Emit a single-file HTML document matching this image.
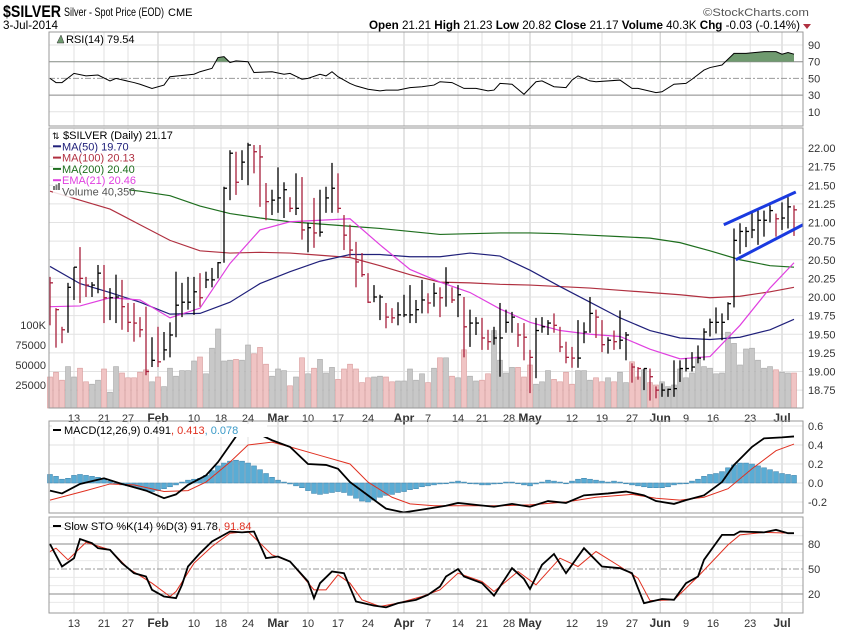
<!DOCTYPE html>
<html><head><meta charset="utf-8"><style>
body{margin:0;background:#fff}
svg{display:block;font-family:"Liberation Sans",sans-serif}
</style></head><body>
<svg id="c" width="850" height="633" viewBox="0 0 850 633">
<text x="3" y="17" font-size="17" font-weight="bold" textLength="58" lengthAdjust="spacingAndGlyphs">$SILVER</text>
<text x="64" y="16" font-size="12" textLength="100" lengthAdjust="spacingAndGlyphs">Silver - Spot Price (EOD)</text>
<text x="168" y="16" font-size="11">CME</text>
<text x="3" y="29" font-size="12" textLength="55" lengthAdjust="spacingAndGlyphs">3-Jul-2014</text>
<text x="703" y="16" font-size="11" fill="#555" textLength="106" lengthAdjust="spacingAndGlyphs">©StockCharts.com</text>
<text x="369" y="29" font-size="12" textLength="431" lengthAdjust="spacingAndGlyphs"><tspan font-weight="bold">Open</tspan> 21.21 <tspan font-weight="bold">High</tspan> 21.23 <tspan font-weight="bold">Low</tspan> 20.82 <tspan font-weight="bold">Close</tspan> 21.17 <tspan font-weight="bold">Volume</tspan> 40.3K <tspan font-weight="bold">Chg</tspan> -0.03 (-0.14%)</text>
<polygon points="803,24 811,24 807,29" fill="#b03040"/>
<g id="g"></g>
</svg>
<script>
const highs=[20.27,19.85,19.60,20.19,20.40,20.67,20.27,20.20,20.43,20.43,20.12,20.30,20.23,19.92,19.92,19.73,19.87,19.46,19.60,19.53,19.66,20.34,20.19,20.27,20.27,20.32,20.34,20.39,20.47,21.48,21.97,21.95,
21.97,22.07,22.04,22.04,21.53,21.44,21.74,21.54,21.34,21.66,21.61,21.00,21.33,21.44,21.48,21.80,21.66,21.10,20.97,20.74,20.59,20.32,20.16,20.03,19.92,19.85,19.93,20.03,20.16,19.96,20.23,
20.05,20.19,20.13,20.40,20.13,20.16,20.00,19.83,19.73,19.72,19.56,19.60,19.92,19.83,19.80,19.65,19.65,19.29,19.72,19.73,19.69,19.78,19.60,19.40,19.33,19.69,19.66,20.00,19.83,19.69,19.46,
19.55,19.82,19.53,19.11,19.06,19.04,19.04,18.80,18.84,18.77,19.15,19.15,19.18,19.26,19.35,19.58,19.71,19.86,19.78,19.93,20.92,20.99,20.94,21.14,21.16,21.16,21.23,21.12,21.27,21.34,21.23];
const lows=[19.62,19.32,19.38,19.52,19.96,19.92,20.00,20.00,20.05,19.65,19.69,19.65,19.56,19.53,19.40,19.46,18.95,19.06,19.06,19.15,19.19,19.46,19.73,19.83,19.76,19.87,20.12,20.13,20.25,20.46,21.30,21.37,
21.57,21.50,21.66,21.21,21.03,21.10,21.13,21.06,21.14,21.10,20.77,20.60,20.66,20.81,21.13,21.13,21.13,20.63,20.54,20.13,20.27,19.92,19.93,19.69,19.58,19.65,19.62,19.73,19.65,19.65,19.78,
19.78,19.87,19.73,19.87,19.92,19.73,19.19,19.33,19.49,19.29,19.29,19.36,18.93,19.52,19.52,19.33,19.15,18.71,18.91,19.52,19.49,19.52,19.26,19.11,19.05,19.05,19.38,19.52,19.45,19.26,19.24,
19.29,19.30,19.15,18.85,18.89,18.75,18.61,18.64,18.66,18.66,18.66,18.86,19.00,19.00,19.11,19.15,19.47,19.51,19.42,19.69,19.86,20.58,20.67,20.79,20.70,20.81,21.00,20.81,20.90,20.92,20.82];
const closes=[20.19,19.83,19.56,20.13,20.40,20.25,20.16,20.16,20.32,19.99,19.99,20.00,19.87,19.66,19.65,19.56,19.00,19.15,19.13,19.29,19.49,19.89,19.93,19.93,20.07,19.99,20.23,20.23,20.46,21.46,21.93,21.54,
21.81,22.04,21.95,21.88,21.28,21.30,21.33,21.44,21.19,21.19,20.90,20.93,20.86,20.87,21.33,21.46,21.19,20.83,20.63,20.47,20.30,19.93,20.00,20.00,19.73,19.72,19.76,19.76,19.76,19.83,19.96,
19.92,20.05,19.99,20.19,19.96,20.03,19.60,19.65,19.65,19.45,19.40,19.45,19.45,19.66,19.73,19.49,19.46,19.19,19.55,19.60,19.65,19.62,19.33,19.19,19.18,19.18,19.53,19.78,19.73,19.36,19.42,
19.40,19.42,19.49,19.06,19.04,19.04,18.93,18.75,18.75,18.76,18.77,19.04,19.04,19.06,19.18,19.53,19.66,19.66,19.66,19.91,20.76,20.88,20.88,20.90,21.03,21.03,21.16,21.05,21.06,21.21,21.17];
const volumesK=[35,41,31,48,35,46,29,26,31,45,16,48,40,34,34,41,44,29,35,23,46,36,43,43,55,60,39,71,95,55,56,57,
56,75,64,72,51,36,45,43,24,35,59,39,46,57,40,47,32,45,51,45,28,34,35,36,35,29,30,30,45,31,39,
28,46,59,59,36,34,69,36,30,31,39,93,56,40,47,47,35,50,26,29,43,32,29,41,26,43,43,31,34,29,34,
29,41,28,54,35,44,28,25,29,23,25,45,34,40,60,48,46,39,40,91,77,50,70,71,56,46,48,44,41,40,40];
const maIdx=[0,5,10,15,20,25,30,35,40,45,50,55,60,65,70,75,80,85,90,95,100,105,110,115,120,124];
const ma50=[20.41,20.18,20.06,19.93,19.77,19.78,19.93,20.18,20.34,20.48,20.57,20.57,20.54,20.54,20.59,20.55,20.36,20.14,19.93,19.72,19.55,19.45,19.43,19.46,19.56,19.70];
const ma100=[21.42,21.30,21.18,20.97,20.76,20.62,20.59,20.60,20.59,20.56,20.53,20.42,20.30,20.20,20.19,20.17,20.16,20.14,20.12,20.09,20.06,20.03,19.99,20.01,20.07,20.13];
const ma200Idx=[13,15,20,25,30,35,40,45,50,55,60,65,70,75,80,85,90,95,100,105,110,115,120,124];
const ma200=[21.44,21.42,21.36,21.22,21.12,21.06,21.01,20.98,20.95,20.92,20.88,20.84,20.85,20.86,20.86,20.85,20.83,20.81,20.79,20.73,20.62,20.50,20.42,20.40];
const ema21=[19.87,19.88,19.99,19.96,19.72,19.85,20.45,20.90,21.01,21.03,21.05,20.70,20.37,20.20,20.06,19.84,19.66,19.55,19.50,19.47,19.30,19.17,19.20,19.62,20.12,20.46];
const rsiIdx=[0,1,2,4,6,8,10,11,14,15,17,19,20,24,25,27,28,29,30,31,33,34,37,39,40,42,43,45,46,47,48,50,51,53,55,56,58,60,62,64,65,67,69,71,73,74,75,77,78,79,81,82,84,86,87,88,90,91,95,97,98,101,102,104,106,107,109,110,112,114,116,119,121,122,123,124];
const rsiVal=[50,45,45,56,53,54,47,50,45,43,38,42,52,55,58,62,75,76,69,71,70,57,58,55,56,49,50,55,53,58,52,44,41,37,35,36,36,39,40,42,46,45,38,38,35,36,44,43,37,31,46,47,40,39,48,53,47,46,48,38,38,33,34,43,44,49,60,63,66,80,80,82,82,79,81,79];
const macdIdx=[0,2,5,9,12,16,19,21,23,26,28,30,32,35,37,40,43,46,48,50,53,56,59,62,66,68,71,74,77,80,83,86,89,93,96,99,101,104,106,109,112,114,117,119,122,124];
const macdVal=[-0.08,-0.11,-0.01,0.05,-0.01,-0.08,-0.16,-0.12,-0.02,0.08,0.22,0.40,0.58,0.51,0.45,0.38,0.20,0.19,0.15,0.01,-0.13,-0.27,-0.31,-0.28,-0.24,-0.21,-0.23,-0.25,-0.22,-0.25,-0.19,-0.21,-0.13,-0.11,-0.09,-0.13,-0.19,-0.22,-0.18,-0.13,0.01,0.19,0.38,0.47,0.48,0.49];
const sigIdx=[0,6,10,14,19,23,26,30,33,37,40,45,50,53,57,60,64,69,75,80,86,91,97,101,105,109,113,117,121,124];
const sigVal=[-0.18,-0.08,-0.01,-0.02,-0.09,-0.08,0.01,0.22,0.40,0.43,0.38,0.29,0.20,0.01,-0.15,-0.22,-0.24,-0.24,-0.24,-0.23,-0.20,-0.15,-0.12,-0.16,-0.18,-0.15,-0.06,0.15,0.34,0.41];
const histVal=[0.09,0.07,0.04,0.05,0.08,0.09,0.08,0.07,0.06,0.04,0.02,0.0,-0.02,-0.03,-0.04,-0.06,-0.08,-0.09,-0.08,-0.06,-0.04,-0.02,0.01,0.03,0.04,0.05,0.08,0.13,0.18,0.21,0.23,0.24,0.23,0.21,0.18,0.14,0.10,0.06,0.03,0.01,-0.01,-0.03,-0.05,-0.08,-0.11,-0.12,-0.11,-0.1,-0.09,-0.1,-0.13,-0.16,-0.19,-0.2,-0.18,-0.15,-0.13,-0.12,-0.1,-0.09,-0.07,-0.06,-0.04,-0.03,-0.02,-0.01,0.0,0.01,0.02,0.01,0.0,-0.01,-0.02,-0.02,-0.01,0.0,0.01,0.01,0.0,-0.02,-0.03,-0.01,0.01,0.03,0.02,0.01,0.0,0.02,0.04,0.05,0.04,0.03,0.02,0.01,0.02,0.01,0.0,-0.02,-0.03,-0.04,-0.05,-0.05,-0.05,-0.04,-0.02,-0.01,0.0,0.02,0.04,0.07,0.09,0.1,0.12,0.16,0.19,0.21,0.21,0.2,0.18,0.16,0.14,0.12,0.1,0.09,0.08];
const kIdx=[0,2,4,5,7,8,10,12,14,16,17,19,21,22,23,25,27,30,32,34,36,38,40,43,44,45,47,49,51,54,56,58,61,63,65,66,68,69,72,74,77,79,80,82,84,86,89,92,95,97,99,102,104,106,108,109,112,114,115,119,121,123,124];
const kVal=[80,53,63,86,81,75,73,57,45,41,25,17,15,31,53,69,83,95,94,95,63,65,59,35,15,33,47,45,11,6,4,9,13,19,29,41,50,41,33,18,51,38,26,55,68,45,75,53,51,45,9,14,13,33,41,61,91,91,95,94,97,93,93];
const dIdx=[0,1,3,6,10,13,17,20,21,24,27,30,33,37,40,44,46,48,50,52,55,58,62,65,68,72,74,78,81,85,88,91,95,98,100,104,108,113,115,119,124];
const dVal=[71,75,61,82,73,51,33,17,23,57,77,93,95,67,59,25,25,43,33,13,5,9,17,25,45,35,23,47,31,63,53,71,53,39,12,13,41,79,91,94,93];
const dateTickIdx=[4,9,13,18,24,28.5,33,38,43,48,53,59,63,68,72,76.5,80,87,92,97,101.7,106,110.5,116.7,122];
const dateTickLbl=["13","21","27","Feb","10","18","24","Mar","10","17","24","Apr","7","14","21","28","May","12","19","27","Jun","9","16","23","Jul"];
const monthTick=[0,0,0,1,0,0,0,1,0,0,0,1,0,0,0,0,1,0,0,0,1,0,0,0,1];
const priceTicks=[22.00,21.75,21.50,21.25,21.00,20.75,20.50,20.25,20.00,19.75,19.50,19.25,19.00,18.75];
const volTicks=[100,75,50,25];
const volTickLbl=["100K","75000","50000","25000"];
const rsiTicks=[90,70,50,30,10];
const macdTicks=[0.6,0.4,0.2,0.0,-0.2];
const stoTicks=[80,50,20];
const channelUpper=[[112.3,20.97],[124.3,21.41]];
const channelLower=[[114.3,20.50],[126,20.97]];

const NS="http://www.w3.org/2000/svg";
const G=document.getElementById('g');
function el(t,a,p){const e=document.createElementNS(NS,t);for(const k in a)e.setAttribute(k,a[k]);(p||G).appendChild(e);return e;}
const L=49,R=803;
const xs=i=>50+6*i;
const py=p=>148+(22-p)*74.5;
const vy=v=>405-v*0.8;
const ry=v=>45+(90-v)*0.835;
const my=v=>483-v*95;
const sy=v=>594-(v-20)*0.833;
const panels=[[32,126],[128,408],[421,513],[517,613]];
const defs=el('defs',{});

panels.forEach((pn,k)=>{
  const r=el('rect',{x:L,y:pn[0],width:R-L,height:pn[1]-pn[0],fill:'#fff',stroke:'none'});
  
  
  dateTickIdx.forEach((d,j)=>{
    const ln=el('line',{x1:xs(d),x2:xs(d),y1:pn[0],y2:pn[1],stroke:monthTick[j]?'#c8c8c8':'#e2e2e2','stroke-width':1});
    
    
  });
});
[418,623].forEach(yy=>{
  dateTickIdx.forEach((d,j)=>{
    const t=el('text',{x:xs(d),y:yy+4,'font-size':monthTick[j]?12:11,'font-weight':monthTick[j]?'bold':'normal','text-anchor':'middle',fill:'#333'});
    t.textContent=dateTickLbl[j];
    
    
  });
});
// RSI panel
rsiTicks.forEach(v=>{
  const strong=(v===70||v===30);
  const ln=el('line',{x1:L,x2:R,y1:ry(v),y2:ry(v),stroke:strong?'#888':(v===50?'#999':'#e2e2e2'),'stroke-dasharray':v===50?'6,2,2,2':'none'});
  
  
  const t=el('text',{x:808,y:ry(v)+4,'font-size':11,fill:'#333'});t.textContent=String(v);
  
  
});
const rsiPts=rsiIdx.map((d,j)=>xs(d)+','+ry(rsiVal[j])).join(' ');
const cp=el('clipPath',{id:'above70'},defs);el('rect',{x:L,y:32,width:R-L,height:ry(70)-32},cp);
const rf=el('polygon',{points:xs(rsiIdx[0])+','+ry(70)+' '+rsiPts+' '+xs(rsiIdx[rsiIdx.length-1])+','+ry(70),fill:'#6f9a6f','clip-path':'url(#above70)'});


const rl=el('polyline',{points:rsiPts,fill:'none',stroke:'#000','stroke-width':1});


const rt=el('text',{x:66,y:43,'font-size':11});rt.textContent='RSI(14) 79.54';


el('polygon',{points:'57,43 61,35 64,43',fill:'#6f9a6f',stroke:'#333','stroke-width':0.5});

priceTicks.forEach(p=>{
  const ln=el('line',{x1:L,x2:R,y1:py(p),y2:py(p),stroke:'#e2e2e2'});
  
  
  const t=el('text',{x:808,y:py(p)+4,'font-size':11,fill:'#333'});t.textContent=p.toFixed(2);
  
  
});
volTicks.forEach((v,j)=>{
  const t=el('text',{x:46,y:vy(v)+4,'font-size':11,'text-anchor':'end',fill:'#333'});t.textContent=volTickLbl[j];
  
  
});
volumesK.forEach((v,i)=>{
  const down=i===0||closes[i]<closes[i-1];
  const b=el('rect',{x:xs(i)-2.5,y:vy(v),width:5,height:405-vy(v)+3,fill:down?'#f0c4c4':'#c8c8c8',stroke:down?'#d89a9a':'#a8a8a8','stroke-width':0.6});
  
  
});
function line(idx,vals,color,name,w){
  const p=el('polyline',{points:idx.map((d,j)=>xs(d)+','+py(vals[j])).join(' '),fill:'none',stroke:color,'stroke-width':w||1.2});
  
  
}
line(maIdx,ma100,'#b03040','ma100-line');
line(ma200Idx,ma200,'#1e6e1e','ma200-line');
line(maIdx,ma50,'#20207a','ma50-line');
line(maIdx,ema21,'#e040e0','ema21-line');
closes.forEach((c,i)=>{
  const down=i===0||c<closes[i-1];
  const col=down?'#a8203c':'#000';
  const b=el('line',{x1:xs(i),x2:xs(i),y1:py(highs[i]),y2:py(lows[i]),stroke:col,'stroke-width':1.3});
  
  
  const t=el('line',{x1:xs(i),x2:xs(i)+3,y1:py(c),y2:py(c),stroke:col,'stroke-width':1.3});
  
  
});
[channelUpper,channelLower].forEach((ch,k)=>{
  const l=el('line',{x1:xs(ch[0][0]),y1:py(ch[0][1]),x2:Math.min(xs(ch[1][0]),R),y2:py(ch[1][1]),stroke:'#1a3ae0','stroke-width':3});
  
  
});
const lg=[['$SILVER (Daily) 21.17','#000',null],['MA(50) 19.70','#20207a','#20207a'],['MA(100) 20.13','#b03040','#b03040'],['MA(200) 20.40','#1e6e1e','#1e6e1e'],['EMA(21) 20.46','#e040e0','#e040e0'],['Volume 40,350','#555',null]];
lg.forEach((e,j)=>{
  const y=139+j*11.3;
  el('rect',{x:53,y:y-9,width:j==0?95:76,height:11,fill:'#fff','fill-opacity':0.85});
  if(e[2])el('line',{x1:53,x2:61,y1:y-4,y2:y-4,stroke:e[2],'stroke-width':2});
  const t=el('text',{x:j==0?63:62,y:y,'font-size':11,fill:e[1]});t.textContent=e[0];
  
  
});
el('text',{x:52,y:139,'font-size':9}).textContent='⇅';
[0,1,2].forEach(k=>el('rect',{x:53+k*2.5,y:189-3-k*1.5,width:2,height:4+k*1.5,fill:'#777'}));

// MACD panel
macdTicks.forEach(v=>{
  const ln=el('line',{x1:L,x2:R,y1:my(v),y2:my(v),stroke:'#e2e2e2'});
  
  
  const t=el('text',{x:808,y:my(v)+4,'font-size':11,fill:'#333'});t.textContent=v.toFixed(1);
  
  
});
const mcp=el('clipPath',{id:'macdclip'},defs);el('rect',{x:L,y:421,width:R-L,height:92},mcp);
histVal.forEach((v,i)=>{
  const y0=my(0),y1=my(v);
  const b=el('rect',{x:xs(i)-2.5,y:Math.min(y0,y1),width:5,height:Math.max(Math.abs(y1-y0),0.8),fill:'#5aacd4',stroke:'#3a7fa8','stroke-width':0.5});
  
  
});
const sl=el('polyline',{points:sigIdx.map((d,j)=>xs(d)+','+my(sigVal[j])).join(' '),fill:'none',stroke:'#e03020','stroke-width':1,'clip-path':'url(#macdclip)'});


const ml=el('polyline',{points:macdIdx.map((d,j)=>xs(d)+','+my(macdVal[j])).join(' '),fill:'none',stroke:'#000','stroke-width':1.8,'clip-path':'url(#macdclip)'});


el('rect',{x:52,y:424,width:215,height:13,fill:'#fff'});
el('line',{x1:53,x2:61,y1:430,y2:430,stroke:'#000','stroke-width':2});
const mt=el('text',{x:64,y:434,'font-size':11});
mt.textContent='MACD(12,26,9) 0.491';
const ms1=el('tspan',{fill:'#e03020'},mt);ms1.textContent=', 0.413';
const ms2=el('tspan',{fill:'#3a9ac8'},mt);ms2.textContent=', 0.078';



// Stochastic panel
[100,90,70,60,40,30,10].forEach(v=>{el('line',{x1:L,x2:R,y1:sy(v),y2:sy(v),stroke:'#e8e8e8'});});
stoTicks.forEach(v=>{
  const ln=el('line',{x1:L,x2:R,y1:sy(v),y2:sy(v),stroke:v===50?'#999':'#888','stroke-dasharray':v===50?'6,2,2,2':'none'});
  
  
  const t=el('text',{x:808,y:sy(v)+4,'font-size':11,fill:'#333'});t.textContent=String(v);
  
  
});
const dl=el('polyline',{points:dIdx.map((d,j)=>xs(d)+','+sy(dVal[j])).join(' '),fill:'none',stroke:'#e03020','stroke-width':1});


const kl=el('polyline',{points:kIdx.map((d,j)=>xs(d)+','+sy(kVal[j])).join(' '),fill:'none',stroke:'#000','stroke-width':1.8});


el('line',{x1:53,x2:61,y1:526,y2:526,stroke:'#000','stroke-width':2});
const st=el('text',{x:64,y:530,'font-size':11});
st.textContent='Slow STO %K(14) %D(3) 91.78';
const ss1=el('tspan',{fill:'#e03020'},st);ss1.textContent=', 91.84';



panels.forEach(pn=>{
  const r=el('rect',{x:L,y:pn[0],width:R-L,height:pn[1]-pn[0],fill:'none',stroke:'#999','stroke-width':1});
  
  
});
</script>
</body></html>
